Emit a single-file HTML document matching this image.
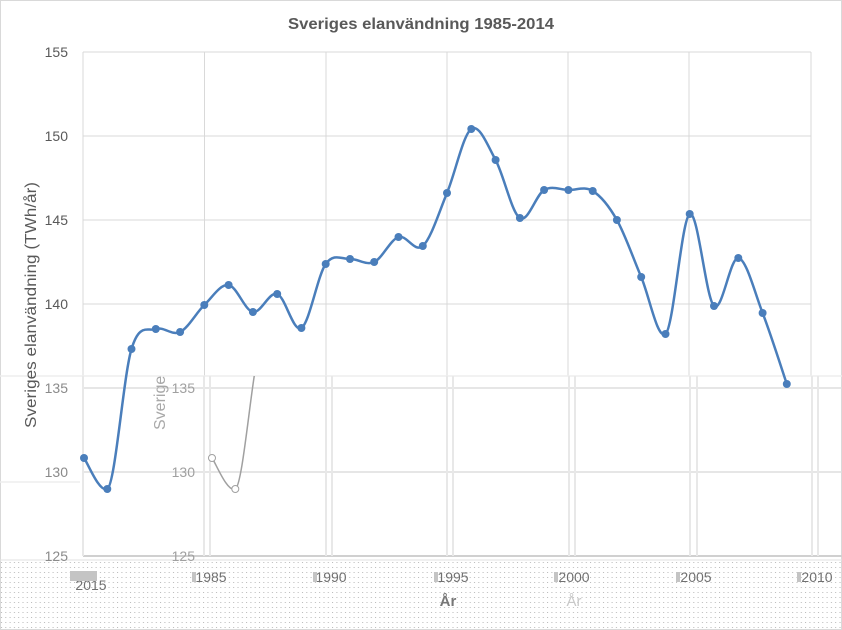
<!DOCTYPE html>
<html><head><meta charset="utf-8">
<style>
html,body{margin:0;padding:0;background:#fff;}
svg{display:block;}
text{font-family:"Liberation Sans",sans-serif;}
</style></head>
<body>
<svg width="842" height="630" viewBox="0 0 842 630" xmlns="http://www.w3.org/2000/svg">
<defs>
<pattern id="dots" x="0" y="0" width="4.3" height="5" patternUnits="userSpaceOnUse">
<rect x="1" y="2" width="1" height="1" fill="#b8b8b8"/>
</pattern>
<clipPath id="low"><rect x="0" y="376" width="842" height="190"/></clipPath>
</defs>
<rect x="0" y="0" width="842" height="630" fill="#fff"/>
<rect x="0.5" y="0.5" width="841" height="629" fill="none" stroke="#d9d9d9"/>

<!-- title -->
<text x="421" y="29" text-anchor="middle" font-size="16" font-weight="bold" fill="#595959" textLength="266" lengthAdjust="spacingAndGlyphs">Sveriges elanvändning 1985-2014</text>

<!-- upper grid -->
<g stroke="#d9d9d9" stroke-width="1">
<line x1="83" y1="52" x2="811" y2="52"/>
<line x1="83" y1="136" x2="811" y2="136"/>
<line x1="83" y1="220" x2="811" y2="220"/>
<line x1="83" y1="304" x2="811" y2="304"/>
<line x1="83" y1="52" x2="83" y2="376"/>
<line x1="204.5" y1="52" x2="204.5" y2="376"/>
<line x1="326" y1="52" x2="326" y2="376"/>
<line x1="447" y1="52" x2="447" y2="376"/>
<line x1="568" y1="52" x2="568" y2="376"/>
<line x1="689" y1="52" x2="689" y2="376"/>
<line x1="811" y1="52" x2="811" y2="376"/>
</g>

<!-- lower glitch grid -->
<g stroke="#dedede" stroke-width="1.5">
<line x1="0" y1="376" x2="842" y2="376" stroke="#eeeeee"/>
<line x1="83" y1="388" x2="842" y2="388"/>
<line x1="83" y1="472" x2="842" y2="472"/>
<line x1="0" y1="482" x2="80" y2="482" stroke="#eeeeee"/>
<line x1="83" y1="556" x2="842" y2="556" stroke="#d0d0d0" stroke-width="2"/>
</g>
<g stroke="#e8e8e8" stroke-width="2">
<line x1="83" y1="376" x2="83" y2="556"/>
<line x1="204" y1="376" x2="204" y2="556"/>
<line x1="210" y1="376" x2="210" y2="556"/>
<line x1="326" y1="376" x2="326" y2="556"/>
<line x1="332" y1="376" x2="332" y2="556"/>
<line x1="447" y1="376" x2="447" y2="556"/>
<line x1="453" y1="376" x2="453" y2="556"/>
<line x1="569" y1="376" x2="569" y2="556"/>
<line x1="575" y1="376" x2="575" y2="556"/>
<line x1="690" y1="376" x2="690" y2="556"/>
<line x1="697" y1="376" x2="697" y2="556"/>
<line x1="812" y1="376" x2="812" y2="556"/>
<line x1="818" y1="376" x2="818" y2="556"/>
</g>

<!-- dotted region -->
<rect x="0" y="560" width="842" height="68" fill="url(#dots)"/>
<line x1="0" y1="560" x2="842" y2="560" stroke="#e2e2e2"/>

<!-- y tick labels -->
<g font-size="14" fill="#595959" text-anchor="end">
<text x="68" y="57">155</text>
<text x="68" y="141">150</text>
<text x="68" y="225">145</text>
<text x="68" y="309">140</text>
</g>
<g font-size="14" fill="#8a8a8a" text-anchor="end">
<text x="68" y="393">135</text>
<text x="68" y="477">130</text>
<text x="68" y="561">125</text>
</g>
<!-- ghost labels -->
<g font-size="14" fill="#a0a0a0" text-anchor="end">
<text x="195" y="393">135</text>
<text x="195" y="477">130</text>
<text x="195" y="561">125</text>
</g>
<text transform="translate(165,430) rotate(-90)" font-size="16" fill="#a8a8a8">Sverige</text>

<!-- y axis title -->
<text transform="translate(36,428) rotate(-90)" font-size="16" fill="#595959" textLength="246" lengthAdjust="spacingAndGlyphs">Sveriges elanvändning (TWh/år)</text>

<!-- x labels -->
<g font-size="14" fill="#707070" text-anchor="middle">
<text x="211" y="582">1985</text>
<text x="331" y="582">1990</text>
<text x="453" y="582">1995</text>
<text x="574" y="582">2000</text>
<text x="696" y="582">2005</text>
<text x="817" y="582">2010</text>
<text x="91" y="590">2015</text>
</g>
<g fill="#c4c4c4">
<rect x="70" y="571" width="27" height="10"/>
<rect x="192" y="572" width="4" height="10"/>
<rect x="313" y="572" width="4" height="10"/>
<rect x="434" y="572" width="4" height="10"/>
<rect x="554" y="572" width="4" height="10"/>
<rect x="676" y="572" width="4" height="10"/>
<rect x="797" y="572" width="4" height="10"/>
</g>
<text x="448" y="606" text-anchor="middle" font-size="15" font-weight="bold" fill="#777">År</text>
<text x="574" y="606" text-anchor="middle" font-size="15" fill="#c8c8c8">År</text>

<!-- ghost curve -->
<g clip-path="url(#low)">
<path d="M212,458 C215.9,463.2 227.4,493 235.3,489 C243.2,485 251.4,375.7 259.5,349" fill="none" stroke="#a0a0a0" stroke-width="1.5"/>
<circle cx="212" cy="458" r="3.5" fill="#fff" stroke="#a0a0a0"/>
<circle cx="235.3" cy="489" r="3.5" fill="#fff" stroke="#a0a0a0"/>
</g>

<!-- main series -->
<path fill="none" stroke="#4a7ebb" stroke-width="2.5" stroke-linejoin="round" stroke-linecap="round"
d="M84,458 C87.9,463.2 99.4,493 107.3,489 C115.2,485 123.4,375.7 131.5,349 C139.6,322.3 147.7,331.8 155.8,329 C163.9,326.2 172,336 180.1,332 C188.2,328 196.2,312.8 204.3,305 C212.4,297.2 220.5,283.8 228.6,285 C236.7,286.2 244.8,310.5 252.9,312 C261,313.5 269.1,291.3 277.2,294 C285.3,296.7 293.3,333 301.4,328 C309.5,323 317.6,275.5 325.7,264 C333.8,252.5 341.9,259.3 350,259 C358.1,258.7 366.1,265.7 374.2,262 C382.3,258.3 390.4,239.7 398.5,237 C406.6,234.3 414.7,253.3 422.8,246 C430.9,238.7 438.9,212.5 447,193 C455.1,173.5 463.2,134.5 471.3,129 C479.4,123.5 487.5,145.2 495.6,160 C503.7,174.8 511.8,213 519.9,218 C528,223 536,194.7 544.1,190 C552.2,185.3 560.3,189.8 568.4,190 C576.5,190.2 584.6,186 592.7,191 C600.8,196 608.8,205.7 616.9,220 C625,234.3 633.1,258 641.2,277 C649.3,296 657.4,340 665.5,334 C673.6,328 681.6,218.7 689.7,214 C697.8,209.3 705.9,298.7 714,306 C722.1,313.3 730.2,256.8 738.3,258 C746.4,259.2 754.5,292 762.6,313 C770.7,334 782.8,372.2 786.8,384"/>
<g fill="#4a7ebb">
<circle cx="84" cy="458" r="4"/>
<circle cx="107.3" cy="489" r="4"/>
<circle cx="131.5" cy="349" r="4"/>
<circle cx="155.8" cy="329" r="4"/>
<circle cx="180.1" cy="332" r="4"/>
<circle cx="204.3" cy="305" r="4"/>
<circle cx="228.6" cy="285" r="4"/>
<circle cx="252.9" cy="312" r="4"/>
<circle cx="277.2" cy="294" r="4"/>
<circle cx="301.4" cy="328" r="4"/>
<circle cx="325.7" cy="264" r="4"/>
<circle cx="350" cy="259" r="4"/>
<circle cx="374.2" cy="262" r="4"/>
<circle cx="398.5" cy="237" r="4"/>
<circle cx="422.8" cy="246" r="4"/>
<circle cx="447" cy="193" r="4"/>
<circle cx="471.3" cy="129" r="4"/>
<circle cx="495.6" cy="160" r="4"/>
<circle cx="519.9" cy="218" r="4"/>
<circle cx="544.1" cy="190" r="4"/>
<circle cx="568.4" cy="190" r="4"/>
<circle cx="592.7" cy="191" r="4"/>
<circle cx="616.9" cy="220" r="4"/>
<circle cx="641.2" cy="277" r="4"/>
<circle cx="665.5" cy="334" r="4"/>
<circle cx="689.7" cy="214" r="4"/>
<circle cx="714" cy="306" r="4"/>
<circle cx="738.3" cy="258" r="4"/>
<circle cx="762.6" cy="313" r="4"/>
<circle cx="786.8" cy="384" r="4"/>
</g>
</svg>
</body></html>
